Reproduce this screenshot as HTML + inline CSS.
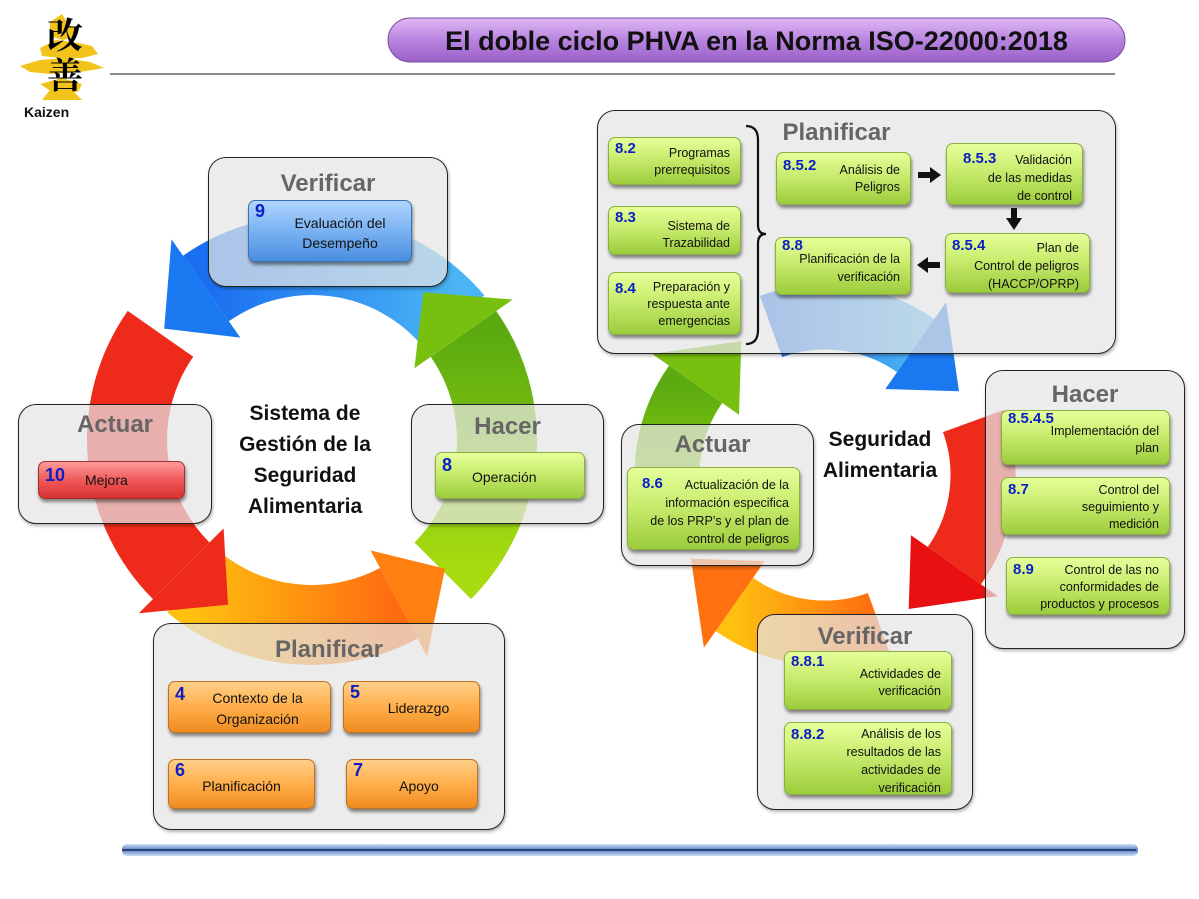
<!DOCTYPE html>
<html><head><meta charset="utf-8">
<style>
html,body{margin:0;padding:0;background:#fff;}
#w{position:relative;width:1199px;height:899px;overflow:hidden;font-family:"Liberation Sans","Noto Sans CJK JP",sans-serif;}
.ab{position:absolute;}
.panel{position:absolute;border:1.5px solid #222;border-radius:18px;background:rgba(228,228,228,0.72);box-shadow:1px 2px 3px rgba(0,0,0,0.3);box-sizing:border-box;}
.pt{position:absolute;left:0;right:0;text-align:center;color:#666;font-weight:bold;font-size:24px;}
.btn{position:absolute;border-radius:7px;box-sizing:border-box;box-shadow:1px 3px 3px rgba(0,0,0,0.45);font-size:12.5px;color:#111;line-height:17px;text-align:right;padding:0 10px 0 6px;}
.g{background:linear-gradient(#e6ff9a,#c8ec6e 45%,#9ccc3c);border:1px solid #8ab040;}
.o{background:linear-gradient(#ffd08a,#ffae4a 50%,#f08c20);border:1px solid #c07020;}
.r{background:linear-gradient(#ff9a9a,#f05a5a 50%,#d83030);border:1px solid #a03030;}
.b{background:linear-gradient(#b0d4ff,#7ab2f2 50%,#4a8ee0);border:1px solid #3a70b0;}
.n{position:absolute;left:6px;top:2px;color:#0b1fc4;font-weight:bold;font-size:15px;}
.big{font-size:18px;}
.ct{position:absolute;text-align:center;font-weight:bold;font-size:21px;line-height:31px;color:#111;}
</style></head><body><div id="w">
<svg class="ab" style="left:0;top:0" width="1199" height="899">
<defs>
<linearGradient id="gb" x1="1" y1="0" x2="0" y2="0"><stop offset="0" stop-color="#4ab4f4"/><stop offset="1" stop-color="#1a6ef0"/></linearGradient>
<linearGradient id="go" x1="0" y1="0" x2="1" y2="0"><stop offset="0" stop-color="#ffc010"/><stop offset="1" stop-color="#ff6a10"/></linearGradient>
<linearGradient id="gg" x1="0" y1="1" x2="0" y2="0"><stop offset="0" stop-color="#a8dc10"/><stop offset="1" stop-color="#5aaa10"/></linearGradient>
<linearGradient id="gt" x1="0" y1="0" x2="0" y2="1"><stop offset="0" stop-color="#e0b8f4"/><stop offset="0.5" stop-color="#b884e0"/><stop offset="1" stop-color="#9a60c8"/></linearGradient>
<linearGradient id="bl" x1="0" y1="0" x2="0" y2="1"><stop offset="0" stop-color="#cfe0f6"/><stop offset="0.5" stop-color="#5a80c8"/><stop offset="1" stop-color="#cfe0f6"/></linearGradient>
</defs>
<g fill="none" stroke-width="80">
<path d="M160.5 333.8 A185 185 0 0 0 181.2 570.8" stroke="#ee2a1a"/>
<path d="M193 581.7 A185 185 0 0 0 398.8 603.3" stroke="url(#go)"/>
<path d="M442.8 570.8 A185 185 0 0 0 463.5 333.9" stroke="url(#gg)"/>
<path d="M453.7 321.1 A185 185 0 0 0 205.9 288.5" stroke="url(#gb)"/>
</g>
<polygon points="223.6,528.4 138.8,613.2 228,604.8" fill="#ee2a1a"/>
<polygon points="370.6,550.4 427,656.3 445,568.6" fill="#ff8010"/>
<polygon points="414.4,368.3 512.7,299.5 423.4,292.2" fill="#78c010"/>
<polygon points="240.3,337.6 171.5,239.3 164.2,328.6" fill="#1a78f0"/>
<g fill="none" stroke-width="65">
<path d="M676.5 529 A158 158 0 0 1 695.6 384.3" stroke="url(#gg)"/>
<path d="M771 326.5 A158 158 0 0 1 915.7 345.6" stroke="url(#gb)"/>
<path d="M973.5 421 A158 158 0 0 1 954.4 565.7" stroke="#ee2a1a"/>
<path d="M879 623.5 A158 158 0 0 1 734.3 604.4" stroke="url(#go)"/>
</g>
<polygon points="739,414.7 652.2,353.9 741.3,341" fill="#78c010"/>
<polygon points="885.3,389 946.1,302.2 959,391.3" fill="#1a78f0"/>
<polygon points="911,535.2 997.8,596.1 908.7,609" fill="#e81010"/>
<polygon points="764.8,561 703.9,647.8 691,558.7" fill="#ff7010"/>
<rect x="388" y="18" width="737" height="44" rx="22" fill="url(#gt)" stroke="#7a50a0" stroke-width="1"/>
<line x1="110" y1="74" x2="1115" y2="74" stroke="#444" stroke-width="1.2"/>
<rect x="122" y="844" width="1016" height="12" rx="5" fill="url(#bl)"/>
<line x1="122" y1="850" x2="1136" y2="850" stroke="#1a2a50" stroke-width="1.5"/>
<g fill="#f2c31a">
<path d="M50 22 L62 14 L68 24 L78 30 L72 38 L62 40 L50 36 Z"/>
<path d="M40 48 L56 40 L74 42 L92 46 L98 54 L82 58 L60 58 L42 56 Z"/>
<path d="M20 66 L40 60 L66 58 L90 62 L104 68 L80 72 L50 74 L30 72 Z"/>
<path d="M40 84 L62 78 L82 84 L78 92 L52 92 Z"/>
<path d="M42 100 L50 90 L72 90 L82 100 Z"/>
</g>
</svg>
<div class="ab" style="left:40px;top:14px;font-family:'Noto Serif CJK SC',serif;font-size:36px;line-height:40px;color:#000;font-weight:bold;width:50px;text-align:center">改<br>善</div>
<div class="ab" style="left:24px;top:104px;font-weight:bold;font-size:14px;color:#111;">Kaizen</div>
<div class="ab" style="left:388px;top:18px;width:737px;height:44px;line-height:46px;text-align:center;font-weight:bold;font-size:27px;color:#111;">El doble ciclo PHVA en la Norma ISO-22000:2018</div>

<div class="panel" style="left:208px;top:157px;width:240px;height:130px"><div class="pt" style="top:12px">Verificar</div></div>
<div class="btn b" style="left:248px;top:200px;width:164px;height:62px;text-align:center;padding:12px 0 0 20px;font-size:14px;line-height:20px"><span class="n big" style="top:0">9</span>Evaluación del<br>Desempeño</div>
<div class="panel" style="left:18px;top:404px;width:194px;height:120px"><div class="pt" style="top:6px">Actuar</div></div>
<div class="btn r" style="left:38px;top:461px;width:147px;height:38px;text-align:left;padding:10px 0 0 46px;font-size:14px"><span class="n big" style="top:5px">10</span>Mejora</div>
<div class="panel" style="left:411px;top:404px;width:193px;height:120px"><div class="pt" style="top:8px">Hacer</div></div>
<div class="btn g" style="left:435px;top:452px;width:150px;height:47px;text-align:left;padding:16px 0 0 36px;font-size:14px"><span class="n big" style="top:4px">8</span>Operación</div>
<div class="panel" style="left:153px;top:623px;width:352px;height:207px"><div class="pt" style="top:12px">Planificar</div></div>
<div class="btn o" style="left:168px;top:681px;width:163px;height:52px;text-align:center;padding:6px 0 0 16px;font-size:14px;line-height:21px"><span class="n big" style="top:2px">4</span>Contexto de la<br>Organización</div>
<div class="btn o" style="left:343px;top:681px;width:137px;height:52px;text-align:center;padding:18px 0 0 14px;font-size:14px"><span class="n big" style="top:2px">5</span>Liderazgo</div>
<div class="btn o" style="left:168px;top:759px;width:147px;height:50px;text-align:center;padding:18px 0 0 0;font-size:14px"><span class="n big" style="top:2px">6</span>Planificación</div>
<div class="btn o" style="left:346px;top:759px;width:132px;height:50px;text-align:center;padding:18px 0 0 14px;font-size:14px"><span class="n big" style="top:2px">7</span>Apoyo</div>
<div class="ct" style="left:215px;top:398px;width:180px">Sistema de<br>Gestión de la<br>Seguridad<br>Alimentaria</div>

<div class="panel" style="left:597px;top:110px;width:519px;height:244px"><div class="pt" style="top:8px;left:-40px">Planificar</div></div>
<div class="btn g" style="left:608px;top:137px;width:133px;height:48px;padding-top:7px"><span class="n">8.2</span>Programas<br>prerrequisitos</div>
<div class="btn g" style="left:608px;top:206px;width:133px;height:49px;padding-top:11px"><span class="n">8.3</span>Sistema de<br>Trazabilidad</div>
<div class="btn g" style="left:608px;top:272px;width:133px;height:63px;padding-top:6px"><span class="n" style="top:7px">8.4</span>Preparación y<br>respuesta ante<br>emergencias</div>
<div class="btn g" style="left:776px;top:152px;width:135px;height:53px;padding-top:9px"><span class="n" style="top:4px">8.5.2</span>Análisis de<br>Peligros</div>
<div class="btn g" style="left:946px;top:143px;width:137px;height:62px;padding-top:7px;line-height:18px"><span class="n" style="left:16px;top:6px">8.5.3</span><span style="padding-left:40px">Validación</span><br>de las medidas<br>de control</div>
<div class="btn g" style="left:945px;top:233px;width:145px;height:60px;padding-top:5px;line-height:18px"><span class="n" style="top:3px">8.5.4</span>Plan de<br>Control de peligros<br>(HACCP/OPRP)</div>
<div class="btn g" style="left:775px;top:237px;width:136px;height:58px;padding-top:12px;line-height:18px"><span class="n" style="top:-1px">8.8</span>Planificación de la<br>verificación</div>

<div class="panel" style="left:985px;top:370px;width:200px;height:279px"><div class="pt" style="top:10px">Hacer</div></div>
<div class="btn g" style="left:1001px;top:410px;width:169px;height:55px;padding-top:12px"><span class="n" style="top:-1px">8.5.4.5</span>Implementación del<br>plan</div>
<div class="btn g" style="left:1001px;top:477px;width:169px;height:58px;padding-top:4px"><span class="n" style="top:3px">8.7</span>Control del<br>seguimiento y<br>medición</div>
<div class="btn g" style="left:1006px;top:557px;width:164px;height:58px;padding-top:4px"><span class="n" style="top:3px">8.9</span>Control de las no<br>conformidades de<br>productos y procesos</div>

<div class="panel" style="left:621px;top:424px;width:193px;height:142px"><div class="pt" style="top:6px;left:-10px">Actuar</div></div>
<div class="btn g" style="left:627px;top:467px;width:173px;height:83px;padding-top:8px;line-height:18px"><span class="n" style="left:14px;top:7px">8.6</span><span style="padding-left:30px">Actualización de la</span><br>información especifica<br>de los PRP’s y el plan de<br>control de peligros</div>

<div class="panel" style="left:757px;top:614px;width:216px;height:196px"><div class="pt" style="top:8px">Verificar</div></div>
<div class="btn g" style="left:784px;top:651px;width:168px;height:59px;padding-top:14px"><span class="n" style="top:1px">8.8.1</span>Actividades de<br>verificación</div>
<div class="btn g" style="left:784px;top:722px;width:168px;height:73px;padding-top:2px;line-height:18px"><span class="n" style="top:3px">8.8.2</span>Análisis de los<br>resultados de las<br>actividades de<br>verificación</div>

<div class="ct" style="left:800px;top:424px;width:160px;">Seguridad<br>Alimentaria</div>

<svg class="ab" style="left:0;top:0" width="1199" height="899">
<path d="M746 126 Q758 126 758 140 L758 225 Q758 234 766 234 Q758 234 758 243 L758 330 Q758 344 746 344" fill="none" stroke="#111" stroke-width="2.2"/>
<polygon points="918,172 930,172 930,167 941,175 930,183 930,178 918,178" fill="#111"/>
<polygon points="1011,208 1017,208 1017,218 1022,218 1014,230 1006,218 1011,218" fill="#111"/>
<polygon points="940,262 928,262 928,257 917,265 928,273 928,268 940,268" fill="#111"/>
</svg>
</div></body></html>
